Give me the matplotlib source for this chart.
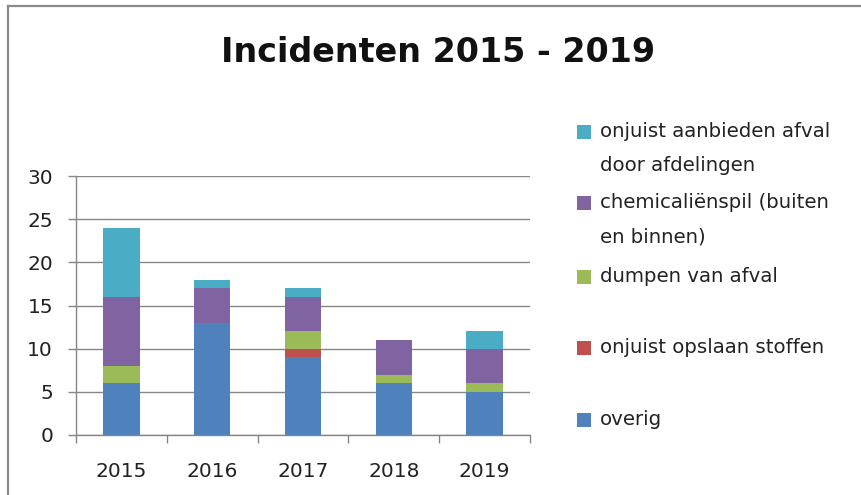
import matplotlib
matplotlib.use("Agg")
import matplotlib.pyplot as plt
from matplotlib.patches import Rectangle
from matplotlib.lines import Line2D
import numpy as np

plt.rcParams['font.family'] = ['DejaVu Sans']

years = ['2015', '2016', '2017', '2018', '2019']
overig = [6, 13, 9, 6, 5]
onjuist_opslaan = [0, 0, 1, 0, 0]
dumpen = [2, 0, 2, 1, 1]
chemicalien = [8, 4, 4, 4, 4]
onjuist_aanbieden = [8, 1, 1, 0, 2]

series_names = ['overig', 'onjuist opslaan stoffen', 'dumpen van afval',
                'chemicaliënspil (buiten\nen binnen)',
                'onjuist aanbieden afval\ndoor afdelingen']
series_values = [overig, onjuist_opslaan, dumpen, chemicalien, onjuist_aanbieden]
colors = ['#4F81BD', '#C0504D', '#9BBB59', '#8064A2', '#4BACC6']

W, H = 861, 495
fig = plt.figure(figsize=(W / 100, H / 100), dpi=100)
ax = fig.add_axes([76 / W, 1 - 435 / H, (530 - 76) / W, (435 - 176) / H])

x = np.arange(len(years))
bottom = np.zeros(len(years))
for vals, c in zip(series_values, colors):
    v = np.array(vals, dtype=float)
    ax.bar(x, v, width=0.4, bottom=bottom, color=c, linewidth=0, zorder=3)
    bottom += v

ax.set_xlim(-0.5, len(years) - 0.5)
ax.set_ylim(0, 30)
ax.set_yticks(range(0, 31, 5))
ax.yaxis.grid(True, color='#868686', linewidth=1.0, zorder=0)
ax.set_axisbelow(True)

for s in ['top', 'right']:
    ax.spines[s].set_visible(False)
for s in ['left', 'bottom']:
    ax.spines[s].set_color('#868686')
    ax.spines[s].set_linewidth(1.0)

ax.set_xticks(x)
ax.set_xticklabels(years)
ax.set_xticks(np.arange(-0.5, len(years), 1.0), minor=True)
ax.tick_params(axis='x', which='major', length=0, pad=19 * 0.72 + 5.8, labelsize=14.5, colors='#222222')
ax.tick_params(axis='x', which='minor', length=8 * 0.72, width=1.0, color='#868686', direction='out')
ax.tick_params(axis='y', length=8 * 0.72, width=1.0, color='#868686', pad=15 * 0.72,
               labelsize=14.5, labelcolor='#222222')

fig.text(438 / W, 1 - 62 / H, 'Incidenten 2015 - 2019', ha='center', va='baseline',
         fontsize=24, fontweight='bold', color='#111111')

# legend (manual, Excel style)
entry_y = [132, 203, 277, 348, 420]
order = list(range(len(series_names)))[::-1]
for yy, i in zip(entry_y, order):
    fig.patches.append(Rectangle((577 / W, 1 - (yy + 7) / H), 14 / W, 14 / H,
                                 transform=fig.transFigure, facecolor=colors[i],
                                 edgecolor='none'))
    lines = series_names[i].split('\n')
    for k, line in enumerate(lines):
        fig.text(600 / W, 1 - (yy + 5 + 34 * k) / H, line, ha='left', va='baseline',
                 fontsize=14.2, color='#222222')

# chart border (top and left visible)
fig.add_artist(Line2D([8 / W, 8 / W], [0, 1 - 6 / H], transform=fig.transFigure,
                      color='#8a8a8a', linewidth=1.6))
fig.add_artist(Line2D([8 / W, 1], [1 - 6 / H, 1 - 6 / H], transform=fig.transFigure,
                      color='#8a8a8a', linewidth=1.6))

fig.savefig('out.png', dpi=100)
